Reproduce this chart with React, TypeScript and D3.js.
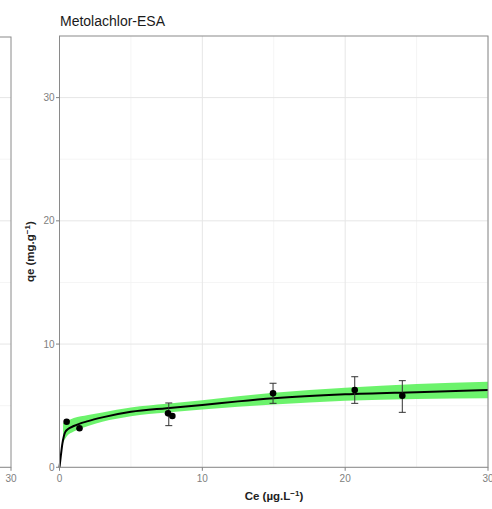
import React from "react";
import * as d3 from "d3";

const title = "Metolachlor-ESA";
const xTicks = [0, 10, 20, 30];
const yTicks = [0, 10, 20, 30];
const xMinor = [5, 15, 25];
const yMinor = [5, 15, 25];

// observed points
const pointCe = [0.5, 1.4, 7.6, 7.9, 14.95, 20.67, 24.0];
const pointQe = [3.7, 3.17, 4.38, 4.16, 6.0, 6.27, 5.81];

// error bars
const errCe = [7.65, 14.95, 20.67, 24.0];
const errLow = [3.38, 5.19, 5.19, 4.46];
const errHigh = [5.22, 6.82, 7.35, 7.03];

// fitted curve
const fitCe = [0, 0.1, 0.2, 0.3, 0.4, 0.6, 1, 2, 3, 5, 7.5, 10, 12.5, 15, 20, 25, 30];
const fitQe = [0, 1.0, 1.9, 2.5, 2.85, 3.1, 3.35, 3.75, 4.05, 4.5, 4.8, 5.06, 5.35, 5.6, 5.92, 6.1, 6.27];

// confidence band
const bandCe = [0.25, 0.5, 1, 2, 3, 5, 7.5, 10, 15, 20, 25, 30];
const bandLow = [2.0, 2.5, 2.9, 3.35, 3.7, 4.15, 4.45, 4.7, 5.1, 5.4, 5.55, 5.6];
const bandHigh = [3.6, 3.75, 4.0, 4.25, 4.45, 4.85, 5.15, 5.45, 6.05, 6.45, 6.75, 6.95];

const FONT = "'Liberation Sans', Arial, sans-serif";

export default function App() {
  const left = 59.5, right = 488, top = 36, bottom = 467.3;
  const x = d3.scaleLinear().domain([0, 30]).range([left, right]);
  const y = d3.scaleLinear().domain([0, 35]).range([bottom, top]);
  const leftPanelRight = 11;
  const x2 = d3.scaleLinear().domain([0, 30]).range([leftPanelRight - (right - left), leftPanelRight]);

  const line = d3.line<number>().x((_, i) => x(fitCe[i])).y((_, i) => y(fitQe[i])).curve(d3.curveMonotoneX);
  const area = d3
    .area<number>()
    .x((_, i) => x(bandCe[i]))
    .y0((_, i) => y(bandLow[i]))
    .y1((_, i) => y(bandHigh[i]))
    .curve(d3.curveMonotoneX);

  const gridMajor = "#e6e6e6";
  const gridMinor = "#f3f3f3";
  const tickColor = "#808080";
  const borderColor = "#8a8a8a";

  return (
    <svg width={492} height={509} style={{ position: "absolute", left: 0, top: 0, background: "#fff" }}>
      {/* left partial panel */}
      <g>
        {yMinor.map((v) => (
          <line key={"lm" + v} x1={0} x2={leftPanelRight} y1={y(v)} y2={y(v)} stroke={gridMinor} strokeWidth={0.8} />
        ))}
        {yTicks.map((v) => (
          <line key={"lM" + v} x1={0} x2={leftPanelRight} y1={y(v)} y2={y(v)} stroke={gridMajor} strokeWidth={1} />
        ))}
        <line x1={x2(30)} x2={x2(30)} y1={bottom} y2={bottom + 3.5} stroke={tickColor} />
        <text x={x2(30)} y={bottom + 15} textAnchor="middle" fontFamily={FONT} fontSize={10} fill={tickColor}>30</text>
        <rect x={-5} y={top + 1} width={leftPanelRight + 5} height={bottom - top - 1} fill="none" stroke={borderColor} strokeWidth={1} />
      </g>

      {/* main panel grid */}
      {xMinor.map((v) => (
        <line key={"xm" + v} x1={x(v)} x2={x(v)} y1={top} y2={bottom} stroke={gridMinor} strokeWidth={0.8} />
      ))}
      {yMinor.map((v) => (
        <line key={"ym" + v} x1={left} x2={right} y1={y(v)} y2={y(v)} stroke={gridMinor} strokeWidth={0.8} />
      ))}
      {xTicks.map((v) => (
        <line key={"xM" + v} x1={x(v)} x2={x(v)} y1={top} y2={bottom} stroke={gridMajor} strokeWidth={1} />
      ))}
      {yTicks.map((v) => (
        <line key={"yM" + v} x1={left} x2={right} y1={y(v)} y2={y(v)} stroke={gridMajor} strokeWidth={1} />
      ))}

      {/* band */}
      <path d={area(bandCe) || ""} fill="#5cf25c" fillOpacity={0.9} />
      {/* fit */}
      <path d={line(fitCe) || ""} fill="none" stroke="#000" strokeWidth={2} />

      {/* error bars */}
      {errCe.map((c, i) => (
        <g key={"e" + i} stroke="#333" strokeWidth={1}>
          <line x1={x(c)} x2={x(c)} y1={y(errLow[i])} y2={y(errHigh[i])} />
          <line x1={x(c) - 3.5} x2={x(c) + 3.5} y1={y(errLow[i])} y2={y(errLow[i])} />
          <line x1={x(c) - 3.5} x2={x(c) + 3.5} y1={y(errHigh[i])} y2={y(errHigh[i])} />
        </g>
      ))}
      {/* points */}
      {pointCe.map((c, i) => (
        <circle key={"p" + i} cx={x(c)} cy={y(pointQe[i])} r={3.3} fill="#000" />
      ))}

      {/* border */}
      <rect x={left} y={top} width={right - left} height={bottom - top} fill="none" stroke={borderColor} strokeWidth={1} />

      {/* ticks */}
      {xTicks.map((v) => (
        <g key={"xt" + v}>
          <line x1={x(v)} x2={x(v)} y1={bottom} y2={bottom + 3.5} stroke={tickColor} />
          <text x={x(v)} y={bottom + 15} textAnchor="middle" fontFamily={FONT} fontSize={10} fill={tickColor}>{v}</text>
        </g>
      ))}
      {yTicks.map((v) => (
        <g key={"yt" + v}>
          <line x1={left - 3.5} x2={left} y1={y(v)} y2={y(v)} stroke={tickColor} />
          <text x={left - 5} y={y(v) + 3.5} textAnchor="end" fontFamily={FONT} fontSize={10} fill={tickColor}>{v}</text>
        </g>
      ))}

      {/* title */}
      <text x={60} y={26} fontFamily={FONT} fontSize={14} fill="#1a1a1a">{title}</text>

      {/* axis titles */}
      <text x={274} y={500} textAnchor="middle" fontFamily={FONT} fontSize={11.5} fontWeight="bold" fill="#222">
        Ce (µg.L<tspan dy={-4.5} fontSize={8}>−1</tspan><tspan dy={4.5}>)</tspan>
      </text>
      <text transform={`translate(34, ${(top + bottom) / 2}) rotate(-90)`} textAnchor="middle" fontFamily={FONT} fontSize={11.5} fontWeight="bold" fill="#222">
        qe (mg.g<tspan dy={-4.5} fontSize={8}>−1</tspan><tspan dy={4.5}>)</tspan>
      </text>
    </svg>
  );
}
